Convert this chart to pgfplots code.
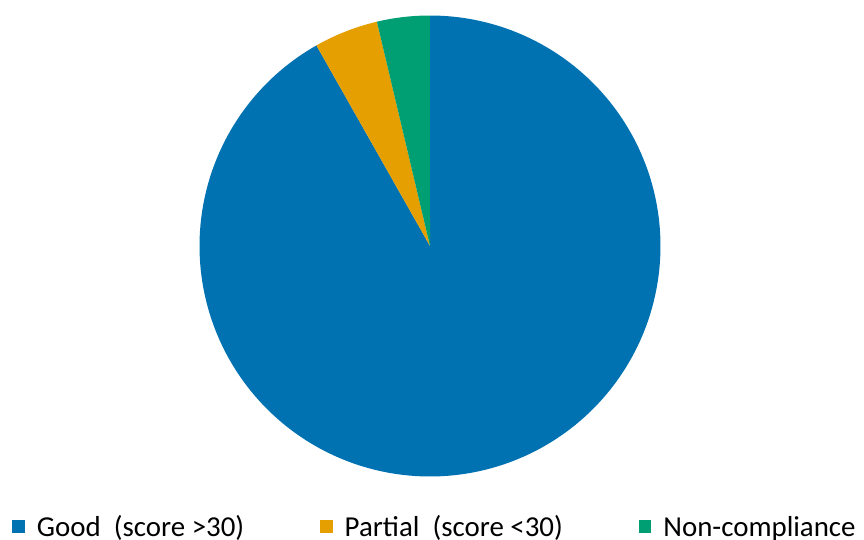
\documentclass[border=0pt]{standalone}
\usepackage{pgfplots}
\usepackage{pgfplotstable}
\pgfplotsset{compat=1.18}
\usepackage{fontspec}
\setmainfont{Carlito}
\newfontfamily\legfont{Carlito}

\definecolor{cGood}{HTML}{0071B1}
\definecolor{cPartial}{HTML}{E69F00}
\definecolor{cNon}{HTML}{009E73}

% shares of the pie (percent)
\pgfplotstableread{
label   value
Good    91.8
Partial 4.5
Non     3.7
}\piedata

\begin{document}
\begin{tikzpicture}
\useasboundingbox (0,0) rectangle (864bp,540bp);
\pgfplotstablegetelem{0}{value}\of\piedata \let\vA\pgfplotsretval
\pgfplotstablegetelem{1}{value}\of\piedata \let\vB\pgfplotsretval
\pgfplotstablegetelem{2}{value}\of\piedata \let\vC\pgfplotsretval
\pgfmathsetmacro\tot{\vA+\vB+\vC}
\pgfmathsetmacro\aA{90-\vA/\tot*360}
\pgfmathsetmacro\aB{\aA-\vB/\tot*360}
\pgfmathsetmacro\aC{\aB-\vC/\tot*360}
\begin{axis}[
    at={(430bp,294bp)}, anchor=center,
    scale only axis, width=461bp, height=461bp,
    xmin=-1, xmax=1, ymin=-1, ymax=1,
    hide axis,
    legend columns=3,
    legend image code/.code={
        \fill[#1] (0bp,4bp) rectangle (12.5bp,16.5bp);
        \path (0bp,-10bp) (24.5bp,0bp);},
    legend style={draw=none, fill=none, inner sep=0pt,
        at={(-0.4061,-0.1530)}, anchor=south west,
        cells={anchor=base west},
        nodes={inner sep=0pt},
        font=\legfont\fontsize{29}{34}\selectfont,
        /tikz/every even column/.append style={column sep=76bp}},
]
    \addplot[draw=none, fill=cGood, domain=\aA:90, samples=240]
        ({cos(x)}, {sin(x)}) -- (0,0) -- cycle;
    \addlegendentry{Good~~(score >30)}
    \addplot[draw=none, fill=cPartial, domain=\aB:\aA, samples=20]
        ({cos(x)}, {sin(x)}) -- (0,0) -- cycle;
    \addlegendentry{Partial~~(score <30)}
    \addplot[draw=none, fill=cNon, domain=\aC:\aB, samples=20]
        ({cos(x)}, {sin(x)}) -- (0,0) -- cycle;
    \addlegendentry{Non-compliance}
\end{axis}
\end{tikzpicture}
\end{document}
